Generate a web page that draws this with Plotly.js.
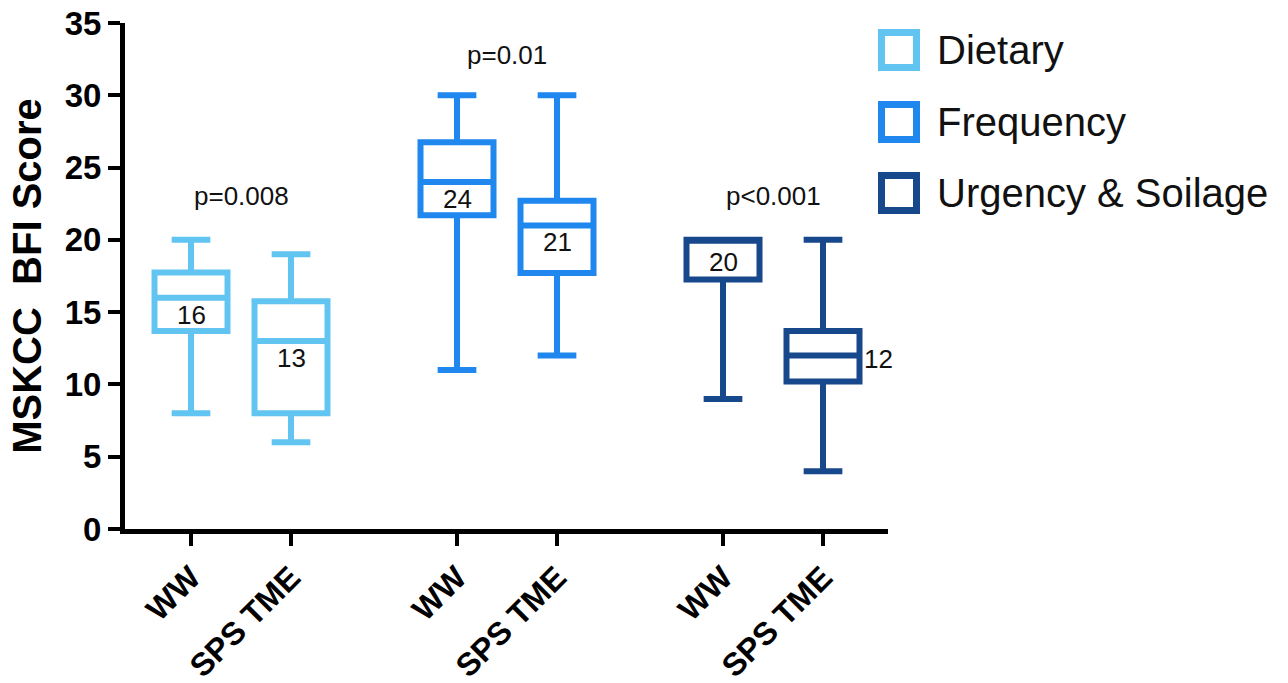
<!DOCTYPE html>
<html>
<head>
<meta charset="utf-8">
<script src="https://cdn.plot.ly/plotly-3.0.1.min.js"></script>
<style>
html,body{margin:0;padding:0;background:#fff;}
#chart{width:1288px;height:683px;}
</style>
</head>
<body>
<div id="chart"></div>
<script>
// ---- data ----
const groups = ['Dietary', 'Frequency', 'Urgency & Soilage'];
const arms = ['WW', 'SPS TME'];
const lowerWhisker = [8, 6, 11, 12, 9, 4];
const q1Values = [13.7, 8, 21.7, 17.7, 17.25, 10.2];
const medianValues = [16, 13, 24, 21, 20, 12];
const q3Values = [17.75, 15.75, 26.75, 22.7, 20, 13.7];
const upperWhisker = [20, 19, 30, 30, 20, 20];
const pValues = ['p=0.008', 'p=0.01', 'p<0.001'];
const pValueHeights = [23, 32.8, 23];

// ---- layout config ----
const groupColors = ['#62c5f1', '#1f87ee', '#17488b'];
const boxPositions = [0, 1, 2.66, 3.66, 5.32, 6.32];
const font = 'Liberation Sans, Arial, sans-serif';

const traces = [];
const annotations = [];
for (let i = 0; i < 6; i++) {
  const g = Math.floor(i / 2);
  traces.push({
    type: 'box',
    x: [boxPositions[i]],
    q1: [q1Values[i]],
    median: [medianValues[i]],
    q3: [q3Values[i]],
    lowerfence: [lowerWhisker[i]],
    upperfence: [upperWhisker[i]],
    name: groups[g] + ' ' + arms[i % 2],
    width: 0.73,
    whiskerwidth: 0.53,
    fillcolor: '#ffffff',
    line: {color: groupColors[g], width: 6},
    boxpoints: false,
    hoverinfo: 'skip',
    showlegend: false
  });
  const outside = (i === 5);
  annotations.push({
    x: boxPositions[i], y: medianValues[i], xref: 'x', yref: 'y',
    text: String(medianValues[i]), showarrow: false,
    font: {family: font, size: 26, color: '#111'},
    xanchor: outside ? 'left' : 'center',
    xshift: outside ? 39 : 0,
    yshift: outside ? -3 : (i === 4 ? -22 : -17)
  });
}
for (let g = 0; g < 3; g++) {
  annotations.push({
    x: (boxPositions[2 * g] + boxPositions[2 * g + 1]) / 2, y: pValueHeights[g],
    xref: 'x', yref: 'y', text: pValues[g], showarrow: false,
    font: {family: font, size: 26, color: '#111'}
  });
}

// legend drawn manually (pixel -> paper helpers)
const L = 125, R = 888, T = 23, B = 529;
const px = v => (v - L) / (R - L);
const py = v => (B - v) / (B - T);
const legendCenters = [50, 122, 193];
const shapes = [];
for (let g = 0; g < 3; g++) {
  const c = legendCenters[g];
  shapes.push({
    type: 'rect', xref: 'paper', yref: 'paper',
    x0: px(881.5), x1: px(916.5), y0: py(c + 17.5), y1: py(c - 17.5),
    line: {color: groupColors[g], width: 7}, fillcolor: '#ffffff'
  });
  annotations.push({
    xref: 'paper', yref: 'paper', x: px(935), y: py(c), xanchor: 'left', yanchor: 'middle',
    text: groups[g], showarrow: false,
    font: {family: font, size: 40, color: '#111'}
  });
}

const layout = {
  width: 1288, height: 683,
  margin: {l: L, r: 1288 - R, t: T, b: 683 - B, pad: 0},
  paper_bgcolor: '#fff', plot_bgcolor: '#fff',
  showlegend: false,
  xaxis: {
    range: [-0.66, 6.97],
    tickmode: 'array', tickvals: boxPositions,
    ticktext: boxPositions.map((_, i) => arms[i % 2]),
    tickangle: -45,
    tickfont: {family: font, size: 32, color: '#000', weight: 'bold'},
    showline: true, linecolor: '#000', linewidth: 5,
    ticks: 'outside', ticklen: 12, tickwidth: 4, tickcolor: '#000',
    showgrid: false, zeroline: false, fixedrange: true
  },
  yaxis: {
    range: [0, 35], tickmode: 'linear', tick0: 0, dtick: 5,
    tickfont: {family: font, size: 33, color: '#000', weight: 'bold'},
    showline: true, linecolor: '#000', linewidth: 5,
    ticks: 'outside', ticklen: 12, tickwidth: 4, tickcolor: '#000',
    showgrid: false, zeroline: false, fixedrange: true,
    title: {text: 'MSKCC\u00a0 BFI Score', font: {family: font, size: 40, color: '#000', weight: 'bold'}, standoff: 12}
  },
  annotations: annotations,
  shapes: shapes
};

Plotly.newPlot('chart', traces, layout, {displayModeBar: false, staticPlot: true});
</script>
</body>
</html>
